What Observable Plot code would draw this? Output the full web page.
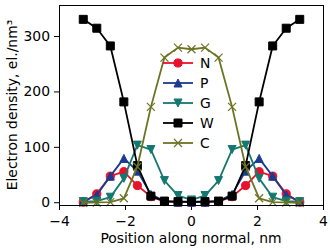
<!DOCTYPE html>
<html>
<head>
<meta charset="utf-8">
<script src="https://cdn.jsdelivr.net/npm/d3@7"></script>
<script src="https://cdn.jsdelivr.net/npm/@observablehq/plot@0.6"></script>
<style>
  html, body { margin: 0; padding: 0; background: #fff; }
  #wrap { position: relative; width: 330px; height: 250px; }
  #wrap svg { position: absolute; left: 0; top: 0; }
</style>
</head>
<body>
<div id="wrap"></div>
<script>
// ---- data ----
const positions = [-3.28, -2.87, -2.46, -2.05, -1.64, -1.23, -0.82, -0.41, 0, 0.41, 0.82, 1.23, 1.64, 2.05, 2.46, 2.87, 3.28];
const seriesNames = ["N", "P", "G", "W", "C"];
const N = [1, 16, 48, 56, 31, 11, 2, 1, 1, 1, 2, 11, 31, 56, 48, 16, 1];
const P = [2, 14, 48, 80, 57, 15, 3, 1, 1, 1, 3, 15, 57, 80, 48, 14, 2];
const G = [2, 3, 10, 44, 104, 96, 40, 13, 5, 13, 40, 96, 104, 44, 10, 3, 2];
const W = [331, 315, 283, 182, 67, 12, 3, 2, 2, 2, 3, 12, 67, 182, 283, 315, 331];
const C = [0, 0.5, 1, 8, 65, 173, 262, 280, 277, 280, 262, 173, 65, 8, 1, 0.5, 0];
const xTicks = [-4, -2, 0, 2, 4];
const yTicks = [0, 100, 200, 300];

// ---- styles ----
const FONT = "DejaVu Sans";
const FS = 13.9;
const colors = {N: "#e8112d", P: "#1c3a8e", G: "#15786f", W: "#000000", C: "#6b7423"};

// custom marker symbols (half-extent s = sqrt(size/PI) so that r = half-size)
const half = size => Math.sqrt(size / Math.PI);
const symSquare = {draw(c, size) { const s = half(size); c.moveTo(-s, -s); c.lineTo(s, -s); c.lineTo(s, s); c.lineTo(-s, s); c.closePath(); }};
const symTriUp = {draw(c, size) { const s = half(size); c.moveTo(0, -s); c.lineTo(s, s); c.lineTo(-s, s); c.closePath(); }};
const symTriDown = {draw(c, size) { const s = half(size); c.moveTo(0, s); c.lineTo(s, -s); c.lineTo(-s, -s); c.closePath(); }};
const symTimes = {draw(c, size) { const s = half(size); c.moveTo(-s, -s); c.lineTo(s, s); c.moveTo(s, -s); c.lineTo(-s, s); }};

const seriesValues = {N, P, G, W, C};
const symbols = {N: "circle", P: symTriUp, G: symTriDown, W: symSquare, C: symTimes};
const radius = {N: 4.1, P: 4.0, G: 4.0, W: 4.0, C: 4.0};

const marks = [];
for (const name of seriesNames) {
  const data = positions.map((x, i) => ({x, y: seriesValues[name][i]}));
  const col = colors[name];
  marks.push(Plot.line(data, {x: "x", y: "y", stroke: col, strokeWidth: 1.8}));
  if (name === "C") {
    marks.push(Plot.dot(data, {x: "x", y: "y", symbol: symbols[name], r: radius[name], fill: "none", stroke: col, strokeWidth: 1.2}));
  } else {
    marks.push(Plot.dot(data, {x: "x", y: "y", symbol: symbols[name], r: radius[name], fill: col, stroke: col, strokeWidth: 1}));
  }
}

const plot = Plot.plot({
  width: 330,
  height: 250,
  marginLeft: 59,
  marginRight: 7,
  marginTop: 5,
  marginBottom: 45,
  style: {fontFamily: FONT, fontSize: FS + "px", background: "#fff", color: "#000", overflow: "visible"},
  x: {domain: [-4, 4], ticks: xTicks, label: null},
  y: {domain: [-5, 356], ticks: yTicks, label: null},
  marks: [
    Plot.axisX({ticks: xTicks, tickSize: 5, tickPadding: 6, label: null, fontSize: FS, stroke: "#000", strokeWidth: 1}),
    Plot.axisY({ticks: yTicks, tickSize: 5, tickPadding: 4.5, label: null, fontSize: FS, stroke: "#000", strokeWidth: 1}),
    ...marks,
    Plot.frame({stroke: "#000", strokeWidth: 1})
  ]
});

const wrap = document.getElementById("wrap");
wrap.appendChild(plot);

const svg = d3.select(plot);
svg.append("text")
  .attr("x", 191).attr("y", 243)
  .attr("text-anchor", "middle")
  .attr("font-family", FONT).attr("font-size", FS)
  .attr("fill", "#000")
  .text("Position along normal, nm");
svg.append("text")
  .attr("transform", "translate(16.5,105) rotate(-90)")
  .attr("text-anchor", "middle")
  .attr("font-family", FONT).attr("font-size", FS)
  .attr("fill", "#000")
  .text("Electron density, el./nm³");

// legend overlay
const leg = d3.select(wrap).append("svg")
  .attr("width", 330).attr("height", 250)
  .style("pointer-events", "none");
const rowY0 = 63, rowDy = 20, hx0 = 163, hx1 = 193, tx = 200;
seriesNames.forEach((name, i) => {
  const y = rowY0 + i * rowDy;
  const col = colors[name];
  const g = leg.append("g");
  g.append("line").attr("x1", hx0).attr("x2", hx1).attr("y1", y).attr("y2", y)
    .attr("stroke", col).attr("stroke-width", 1.8);
  const sym = typeof symbols[name] === "string" ? d3.symbolCircle : symbols[name];
  const r = radius[name];
  g.append("path")
    .attr("d", d3.symbol(sym, Math.PI * r * r)())
    .attr("transform", `translate(${(hx0 + hx1) / 2},${y})`)
    .attr("fill", name === "C" ? "none" : col)
    .attr("stroke", col)
    .attr("stroke-width", name === "C" ? 1.2 : 1);
  g.append("text").attr("x", tx).attr("y", y).attr("dy", "0.36em")
    .attr("font-family", FONT).attr("font-size", FS).attr("fill", "#000")
    .text(name);
});
</script>
</body>
</html>
